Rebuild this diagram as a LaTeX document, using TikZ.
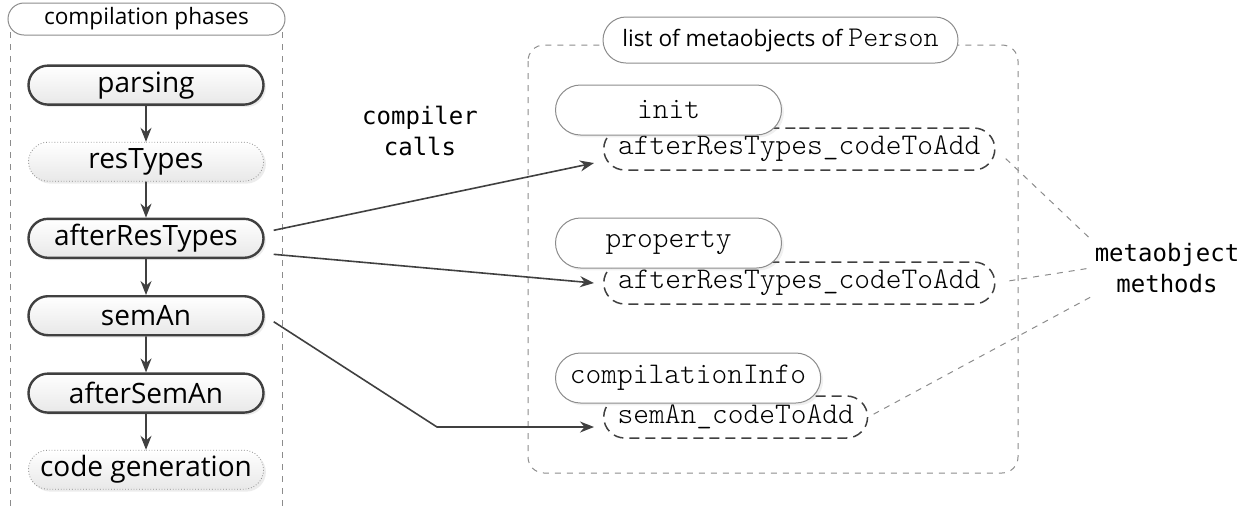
\documentclass[tikz,border=0pt]{standalone}
\usepackage{fontspec}
\setmainfont{Open Sans}
\setmonofont{Latin Modern Mono Light}
\newfontfamily\callfont{DejaVu Sans Mono}
\usetikzlibrary{matrix,arrows.meta,shapes.misc,shadows}
\definecolor{darkline}{HTML}{404040}
\definecolor{lightline}{HTML}{8C8C8C}

\tikzset{
  phase/.style={rounded rectangle, draw=darkline, line width=1.2pt,
    top color=white, bottom color=black!9, minimum width=117.5pt,
    minimum height=19.5pt, inner sep=0pt, font=\fontsize{14}{16}\selectfont,
    drop shadow={shadow xshift=1.2pt, shadow yshift=-1.2pt, opacity=0.15}},
  skipped/.style={draw=lightline, line width=0.4pt, densely dotted},
  header/.style={rounded rectangle, draw=lightline, line width=0.5pt, fill=white,
    inner sep=0pt, font=\fontsize{11.3}{14}\selectfont},
  method/.style={rounded rectangle, draw=lightline, line width=0.5pt, fill=white,
    minimum width=124pt, minimum height=25pt, inner xsep=5.5pt, anchor=west,
    font=\ttfamily\fontsize{15}{17}\selectfont,
    drop shadow={shadow xshift=1.2pt, shadow yshift=-1.2pt, opacity=0.12}},
  code/.style={rounded rectangle, draw=darkline, line width=0.75pt,
    dash pattern=on 5pt off 3pt, fill=white, minimum height=21pt,
    inner xsep=5pt, anchor=west, font=\ttfamily\fontsize{15}{17}\selectfont},
  note/.style={align=center, inner sep=2pt, font=\callfont\fontsize{12}{15.5}\selectfont},
  frame/.style={lightline, dashed, line width=0.5pt},
  call/.style={-{Stealth[length=7pt,width=5.5pt]}, darkline, line width=0.8pt},
  mline/.style={lightline, dashed, line width=0.5pt}
}

\begin{document}
\begin{tikzpicture}[x=0.5pt,y=-0.5pt]
  \useasboundingbox (0,0) rectangle (1252,511);

  % compilation phases
  \draw[frame] (10,32) -- (10,511);
  \draw[frame] (282,32) -- (282,511);
  \node[header, minimum width=138.5pt, minimum height=16pt] (phasestitle) at (146.5,19) {compilation phases};
  \matrix (phases) [matrix of nodes, row sep=18pt, nodes={phase}] at (146,277) {
     parsing \\
     |[skipped]| resTypes \\
     afterResTypes \\
     semAn \\
     afterSemAn \\
     |[skipped]| code generation \\};
  \path[call]
    (phases-1-1) edge (phases-2-1)
    (phases-2-1) edge (phases-3-1)
    (phases-3-1) edge (phases-4-1)
    (phases-4-1) edge (phases-5-1)
    (phases-5-1) edge (phases-6-1);

  % metaobjects
  \draw[frame, rounded corners=8pt] (528,45) rectangle (1018,473);
  \node[header, minimum width=177.5pt, minimum height=23pt] (listtitle) at (780.5,40)
    {list of metaobjects of {\ttfamily\fontsize{14.3}{16}\selectfont Person}};

  \node[code] (code1) at (603,149) {afterResTypes\_codeToAdd};
  \node[method] (init) at (555,110) {init};
  \node[code] (code2) at (603,283) {afterResTypes\_codeToAdd};
  \node[method] (property) at (555,243) {property};
  \node[code] (code3) at (603,417) {semAn\_codeToAdd};
  \node[method] (info) at (555,378) {compilationInfo};

  % labels
  \node[note] (calls) at (420,131) {compiler\\calls};
  \node[note] (methods) at (1167,268) {metaobject\\methods};

  % calls
  \coordinate (bend) at (437,427);
  \draw[call] ([xshift=4.5pt,yshift=4pt]phases-3-1.east) -- ([xshift=-4.5pt,yshift=-7pt]code1.west);
  \draw[call] ([xshift=4.5pt,yshift=-8pt]phases-3-1.east) -- ([xshift=-4.5pt]code2.west);
  \draw[call] ([xshift=4.5pt,yshift=-3pt]phases-4-1.east) -- (bend) -- ([xshift=-4.5pt,yshift=-5pt]code3.west);

  \draw[mline, shorten <=7pt] (code1.east) -- (methods.north west);
  \draw[mline, shorten <=7pt] (code2.east) -- (methods.west);
  \draw[mline, shorten <=3pt] (code3.east) -- (methods.south west);
\end{tikzpicture}
\end{document}
